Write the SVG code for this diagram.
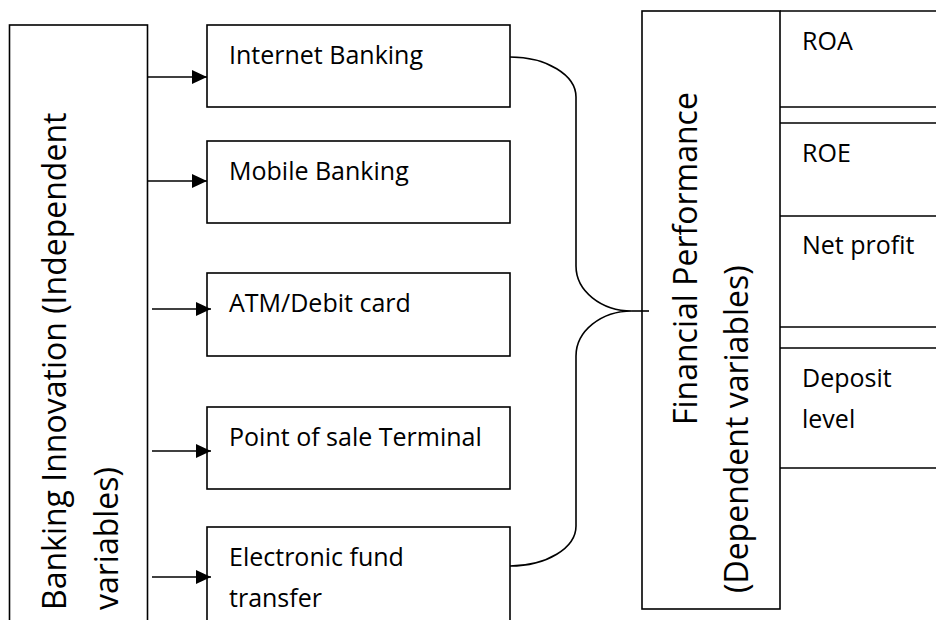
<svg xmlns="http://www.w3.org/2000/svg" width="936" height="620" viewBox="0 0 936 620">
<style>
.box{fill:#fff;stroke:#000;stroke-width:1.6}
.ln{fill:none;stroke:#000;stroke-width:1.6}
.t{font-family:"Open Sans","Noto Sans",sans-serif;font-size:25px;fill:#000}
.tv{font-family:"Open Sans","Noto Sans",sans-serif;font-size:32px;fill:#000}
</style>
<defs>
<marker id="arr" markerUnits="userSpaceOnUse" markerWidth="16" markerHeight="16" refX="15" refY="7" orient="auto">
<path d="M0,0 L15,7 L0,14 Z" fill="#000"/>
</marker>
</defs>
<rect width="936" height="620" fill="#fff"/>
<g id="independent">
<rect class="box" x="9.5" y="25" width="138" height="620"/>
<text class="tv" transform="translate(66,610) rotate(-90)">Banking Innovation (Independent</text>
<text class="tv" transform="translate(118,610) rotate(-90)">variables)</text>
</g>
<g id="internet">
<rect class="box" x="207" y="25" width="303" height="82"/>
<text class="t" x="229" y="64">Internet Banking</text>
</g>
<g id="mobile">
<rect class="box" x="207" y="141" width="303" height="82"/>
<text class="t" x="229" y="180">Mobile Banking</text>
</g>
<g id="atm">
<rect class="box" x="207" y="273" width="303" height="83"/>
<text class="t" x="229" y="312">ATM/Debit card</text>
</g>
<g id="pos">
<rect class="box" x="207" y="407" width="303" height="82"/>
<text class="t" x="229" y="446">Point of sale Terminal</text>
</g>
<g id="eft">
<rect class="box" x="207" y="527" width="303" height="110"/>
<text class="t" x="229" y="566">Electronic fund</text>
<text class="t" x="229" y="607">transfer</text>
</g>
<g id="dependent">
<rect class="box" x="642" y="11" width="138" height="598"/>
<text class="tv" transform="translate(697,425) rotate(-90)">Financial Performance</text>
<text class="tv" transform="translate(748,593) rotate(-90)">(Dependent variables)</text>
</g>
<g id="roa">
<path class="ln" d="M780,11 H936 M780,107 H936"/>
<text class="t" x="802" y="50">ROA</text>
</g>
<g id="roe">
<path class="ln" d="M780,123 H936 M780,216 H936"/>
<text class="t" x="802" y="162">ROE</text>
</g>
<g id="netprofit">
<path class="ln" d="M780,327 H936"/>
<text class="t" x="802" y="254">Net profit</text>
</g>
<g id="deposit">
<path class="ln" d="M780,348 H936 M780,468 H936"/>
<text class="t" x="802" y="387">Deposit</text>
<text class="t" x="802" y="428">level</text>
</g>
<g id="connectors">
<path class="ln" d="M148,77 H207" marker-end="url(#arr)"/>
<path class="ln" d="M148,181 H207" marker-end="url(#arr)"/>
<path class="ln" d="M152,309 H211" marker-end="url(#arr)"/>
<path class="ln" d="M152,451 H211" marker-end="url(#arr)"/>
<path class="ln" d="M152,577 H211" marker-end="url(#arr)"/>
<path class="ln" d="M510,57 A66,40 0 0 1 576,97 L576,266 A56,45 0 0 0 632,311 A56,45 0 0 0 576,356 L576,526 A66,40 0 0 1 510,566"/>
<path class="ln" d="M632,311 H649"/>
</g>
</svg>
